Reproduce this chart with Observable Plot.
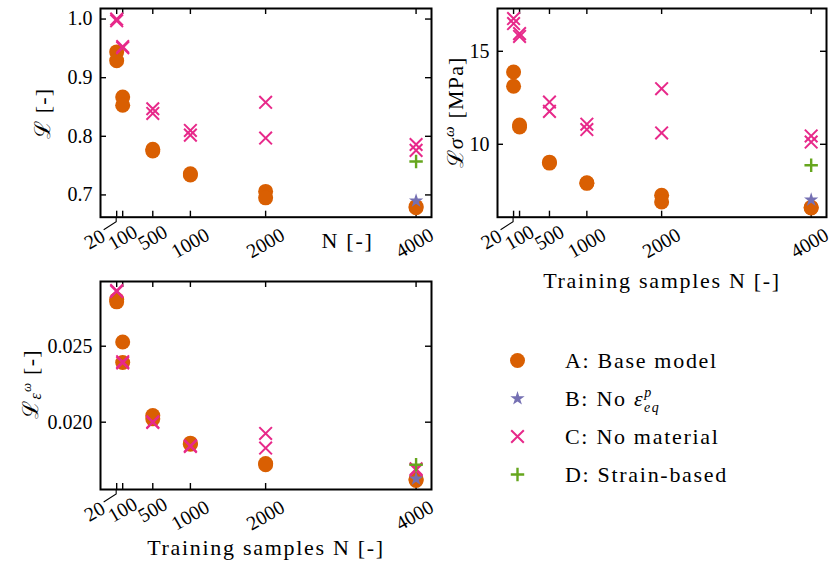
<!DOCTYPE html>
<html><head><meta charset="utf-8">
<script src="https://cdn.jsdelivr.net/npm/d3@7"></script>
<script src="https://cdn.jsdelivr.net/npm/@observablehq/plot@0.6"></script>
<style>
body{margin:0;background:#fff;}
#fig{position:relative;width:831px;height:571px;background:#fff;overflow:hidden;}
#fig svg{position:absolute;overflow:visible;}
</style></head><body><div id="fig"></div>
<script>
// ---------- data ----------
const xTicks = [20, 100, 500, 1000, 2000, 4000];
const seriesKeys = ["A", "B", "C", "D"];
const seriesLabels = ["A: Base model", "B: No ", "C: No material", "D: Strain-based"];
const seriesColors = ["#d95f02", "#7570b3", "#e7298a", "#66a61e"];

const nRuns = [20, 20, 100, 100, 500, 500, 1000, 1000, 2000, 2000, 4000, 4000];
const nFull = [4000];

// panel 1: L [-]
const lossTicks = [0.7, 0.8, 0.9, 1.0];
const lossA = [0.944, 0.929, 0.867, 0.853, 0.778, 0.775, 0.736, 0.734, 0.706, 0.695, 0.680, 0.678];
const lossC = [1.000, 0.997, 0.953, 0.951, 0.847, 0.839, 0.810, 0.802, 0.858, 0.797, 0.786, 0.776];
const lossB = [0.690];
const lossD = [0.757];

// panel 2: L sigma^omega [MPa]
const sigTicks = [10, 15];
const sigA = [13.89, 13.12, 11.04, 10.93, 9.04, 8.99, 7.93, 7.90, 7.26, 6.90, 6.61, 6.58];
const sigC = [16.76, 16.49, 15.95, 15.80, 12.27, 11.77, 11.08, 10.79, 12.99, 10.61, 10.45, 10.12];
const sigB = [7.01];
const sigD = [8.87];

// panel 3: L eps^omega [-]
const epsTicks = [0.020, 0.025];
const epsA = [0.02808, 0.02792, 0.02528, 0.02393, 0.02044, 0.02022, 0.01862, 0.01855, 0.01728, 0.01720, 0.01625, 0.01616];
const epsC = [0.02866, 0.02860, 0.02398, 0.02390, 0.02002, 0.01998, 0.01845, 0.01840, 0.01926, 0.01830, 0.01693, 0.01685];
const epsB = [0.01627];
const epsD = [0.01720];

// ---------- styles ----------
const FONT = "'Liberation Serif','DejaVu Serif',serif";
const LABEL_SIZE = 22, LABEL_SPACING = 1.7;
const TICK = 6;
const symStyle = {
  A: {symbol: "circle", fill: seriesColors[0], r: 7.5},
  B: {symbol: "star", fill: seriesColors[1], r: 4.5},
  C: {symbol: "times", stroke: seriesColors[2], strokeWidth: 2, r: 5.8},
  D: {symbol: "plus", stroke: seriesColors[3], strokeWidth: 2.4, r: 4.4}
};
const xLabDy = {2: 22.3, 3: 20.5, 4: 26};

const fig = document.getElementById("fig");

function place(svg, left, top) {
  svg.style.left = left + "px";
  svg.style.top = top + "px";
  svg.style.background = "transparent";
  svg.style.maxWidth = "none";
  fig.appendChild(svg);
}

function panel(cfg) {
  const innerW = cfg.width - cfg.mL - cfg.mR;
  const innerH = cfg.height - cfg.mT - cfg.mB;
  const tickStyle = {stroke: "#000", strokeWidth: 1.4};
  const marks = [
    Plot.tickX(xTicks, {x: d => d, insetTop: innerH - TICK, ...tickStyle}),
    Plot.tickX(xTicks, {x: d => d, insetBottom: innerH - TICK, ...tickStyle}),
    Plot.tickY(cfg.yTicks, {y: d => d, insetRight: innerW - TICK, ...tickStyle}),
    Plot.tickY(cfg.yTicks, {y: d => d, insetLeft: innerW - TICK, ...tickStyle}),
    Plot.text(cfg.yTicks, {y: d => d, frameAnchor: "left", text: cfg.fmt, textAnchor: "end", dx: -8, fontSize: 20, fill: "#000"}),
    ...xTicks.map(t => Plot.text([t], {
      x: d => d, frameAnchor: "bottom", text: d => String(d), rotate: -30,
      textAnchor: "middle", lineAnchor: "middle",
      dy: xLabDy[String(t).length], dx: t === 20 ? -22 : (t === 4000 ? -1.5 : 0), fontSize: 20, fill: "#000"
    })),
    Plot.dot(cfg.A, {x: nRuns, y: cfg.A, ...symStyle.A}),
    Plot.dot(cfg.C, {x: nRuns, y: cfg.C, ...symStyle.C}),
    Plot.dot(cfg.B, {x: nFull, y: cfg.B, ...symStyle.B}),
    Plot.dot(cfg.D, {x: nFull, y: cfg.D, ...symStyle.D}),
    Plot.frame({stroke: "#000", strokeWidth: 2}),
    Plot.text([cfg.xLabel], {frameAnchor: "bottom", text: d => d, lineAnchor: "bottom",
      dx: cfg.xLabDx, dy: cfg.xLabDyB, fontSize: LABEL_SIZE, fill: "#000"})
  ];
  const p = Plot.plot({
    width: cfg.width, height: cfg.height,
    marginLeft: cfg.mL, marginRight: cfg.mR, marginTop: cfg.mT, marginBottom: cfg.mB,
    x: {domain: [-195, 4205], axis: null},
    y: {domain: cfg.yDomain, axis: null},
    style: {fontFamily: FONT, background: "transparent", overflow: "visible"},
    marks
  });
  place(p, cfg.left, cfg.top);
  const svg = d3.select(p);
  svg.selectAll("text").filter(function () { return this.textContent === cfg.xLabel; })
    .attr("letter-spacing", LABEL_SPACING);
  // leader line for the "20" label
  const sx = p.scale("x");
  const x0 = sx.apply(20), y0 = cfg.height - cfg.mB;
  svg.append("path")
    .attr("d", `M${x0},${y0}L${x0},${y0 + 5}L${x0 - 12.5},${y0 + 13}`)
    .attr("fill", "none").attr("stroke", "#000").attr("stroke-width", 1.1);
  // y label (with sub/superscripts)
  const yl = svg.append("text")
    .attr("transform", `translate(${cfg.mL - cfg.yLabOff},${cfg.mT + innerH / 2 + cfg.yLabShift}) rotate(-90)`)
    .attr("text-anchor", "middle").attr("font-family", FONT).attr("font-size", LABEL_SIZE)
    .attr("letter-spacing", 1.2).attr("fill", "#000");
  cfg.yLabel(yl);
  return p;
}

function labelL(t) { t.append("tspan").attr("font-family", "'DejaVu Serif',serif").text("ℒ"); t.append("tspan").text(" [-]"); }
function labelSig(t) {
  t.append("tspan").attr("font-family", "'DejaVu Serif',serif").text("ℒ");
  t.append("tspan").attr("font-style", "italic").text("σ");
  t.append("tspan").attr("font-style", "italic").attr("font-size", 15).attr("dy", -9).text("ω");
  t.append("tspan").attr("dy", 9).text(" [MPa]");
}
function labelEps(t) {
  t.append("tspan").attr("font-family", "'DejaVu Serif',serif").text("ℒ");
  t.append("tspan").attr("font-style", "italic").attr("font-size", 16).attr("dy", 3).text("ε");
  t.append("tspan").attr("font-style", "italic").attr("font-size", 13).attr("dy", -10).text("ω");
  t.append("tspan").attr("dy", 7).text(" [-]");
}

panel({left: 0, top: 0, width: 440, height: 270, mL: 100, mR: 9, mT: 8, mB: 53.3,
  yDomain: [0.662, 1.018], yTicks: lossTicks, fmt: d => d.toFixed(1),
  A: lossA, B: lossB, C: lossC, D: lossD,
  xLabel: "N [-]", xLabDx: 81.5, xLabDyB: 30.3,
  yLabel: labelL, yLabOff: 50, yLabShift: 1});

panel({left: 440, top: 0, width: 391, height: 300, mL: 57, mR: 5, mT: 8, mB: 83.3,
  yDomain: [6.08, 17.3], yTicks: sigTicks, fmt: d => String(d),
  A: sigA, B: sigB, C: sigC, D: sigD,
  xLabel: "Training samples N [-]", xLabDx: 0, xLabDyB: 70.3,
  yLabel: labelSig, yLabOff: 34, yLabShift: 0});

panel({left: 0, top: 270, width: 440, height: 301, mL: 100, mR: 9, mT: 11, mB: 82,
  yDomain: [0.01557, 0.02926], yTicks: epsTicks, fmt: d => d.toFixed(3),
  A: epsA, B: epsB, C: epsC, D: epsD,
  xLabel: "Training samples N [-]", xLabDx: 0, xLabDyB: 65,
  yLabel: labelEps, yLabOff: 62, yLabShift: -1});

// ---------- legend ----------
const leg = Plot.plot({
  width: 351, height: 180, marginLeft: 37, marginRight: 0, marginTop: 40, marginBottom: 26,
  x: {domain: [0, 1], axis: null},
  y: {type: "point", domain: seriesKeys, padding: 0, axis: null},
  style: {fontFamily: FONT, background: "transparent", overflow: "visible"},
  marks: seriesKeys.map(k => Plot.dot([k], {x: () => 0, y: d => d, ...symStyle[k]}))
});
place(leg, 480, 320);
const ls = d3.select(leg);
const sy = leg.scale("y"), sxl = leg.scale("x");
seriesKeys.forEach((k, i) => {
  const t = ls.append("text")
    .attr("x", sxl.apply(0) + 48).attr("y", sy.apply(k)).attr("dy", "0.36em")
    .attr("text-anchor", "start")
    .attr("font-family", FONT).attr("font-size", LABEL_SIZE).attr("letter-spacing", LABEL_SPACING)
    .attr("fill", "#000");
  t.append("tspan").text(seriesLabels[i]);
  if (k === "B") {
    t.append("tspan").attr("font-style", "italic").text("ε");
    t.append("tspan").attr("font-style", "italic").attr("font-size", 14).attr("dy", -9).text("p");
    t.append("tspan").attr("font-style", "italic").attr("font-size", 14).attr("dx", -9).attr("dy", 15).text("eq");
  }
});
</script></body></html>
